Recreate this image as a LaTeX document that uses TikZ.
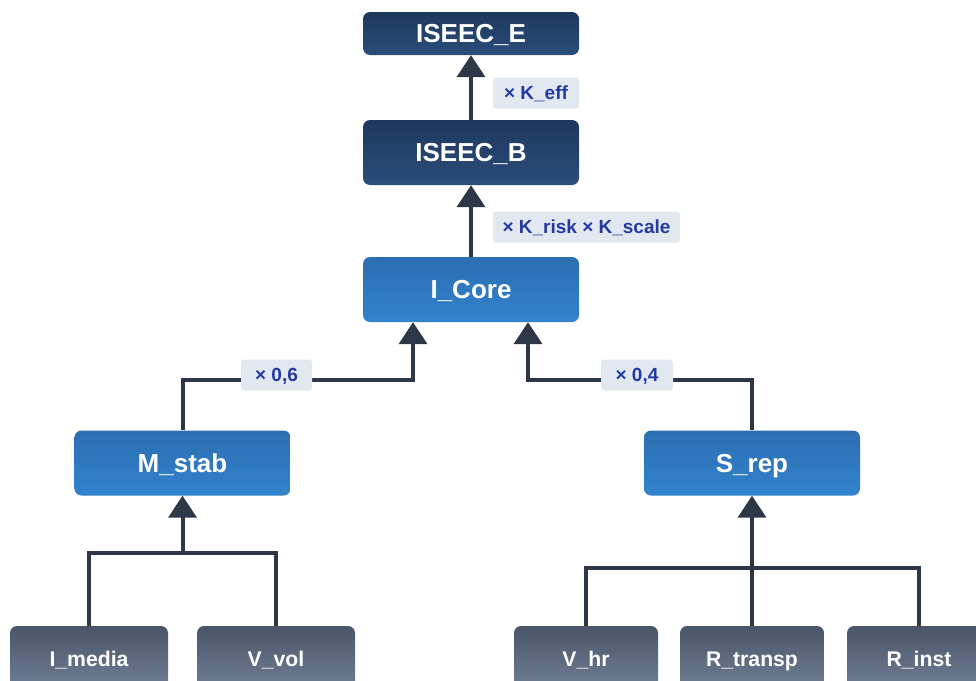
\documentclass[tikz,border=0pt]{standalone}
\usepackage{fontspec}
\setmainfont{Liberation Sans}
\usepackage{tikz}
\usetikzlibrary{arrows.meta,calc}
\definecolor{navytop}{RGB}{29,56,94}
\definecolor{navybot}{RGB}{43,77,122}
\definecolor{bluetop}{RGB}{44,110,176}
\definecolor{bluebot}{RGB}{50,131,206}
\definecolor{greytop}{RGB}{74,85,104}
\definecolor{greybot}{RGB}{113,128,150}
\definecolor{wirecol}{RGB}{45,55,72}
\definecolor{tagfill}{RGB}{226,232,240}
\definecolor{tagtext}{RGB}{35,58,165}
\tikzset{
  box/.style={rounded corners=7pt,inner sep=0pt,text=white,text height=18.6pt,text depth=0pt,font=\bfseries\fontsize{26}{30}\selectfont},
  topbox/.style={box,top color=navytop,bottom color=navybot,minimum width=216pt},
  corebox/.style={box,top color=bluetop,bottom color=bluebot,minimum width=216pt,minimum height=65pt},
  leafbox/.style={box,top color=greytop,bottom color=greybot,minimum height=65pt,text height=15.2pt,font=\bfseries\fontsize{21.2}{25}\selectfont},
  factor/.style={fill=tagfill,rounded corners=3pt,text=tagtext,inner sep=0pt,minimum height=31pt,text height=13.6pt,text depth=0pt,font=\bfseries\fontsize{19}{23}\selectfont},
  wire/.style={draw=wirecol,line width=4pt},
  flow/.style={wire,-{Triangle[width=28pt,length=22pt]}}
}
\begin{document}
\begin{tikzpicture}[x=1pt,y=-1pt]
  \useasboundingbox (0,0) rectangle (976,680);
  % upper chain
  \node[topbox,minimum height=43pt] (isee) at (471,33.5) {ISEEC\_E};
  \node[topbox,minimum height=65pt] (iseb) at (471,152.5) {ISEEC\_B};
  \node[corebox] (icore) at (471,289.5) {I\_Core};
  % middle level
  \node[corebox] (mstab) at (182.5,463) {M\_stab};
  \node[corebox] (srep) at (752,463) {S\_rep};
  % leaves
  \node[leafbox,minimum width=158pt] (imedia) at (89,658.5) {I\_media};
  \node[leafbox,minimum width=158pt] (vvol) at (276,658.5) {V\_vol};
  \node[leafbox,minimum width=144pt] (vhr) at (586,658.5) {V\_hr};
  \node[leafbox,minimum width=144pt] (rtransp) at (752,658.5) {R\_transp};
  \node[leafbox,minimum width=144pt] (rinst) at (919,658.5) {R\_inst};
  % joints
  \coordinate (jl) at (413,380);
  \coordinate (jr) at (528,380);
  \coordinate (mjoin) at (182.5,553);
  \coordinate (sjoin) at (752,568);
  % connectors
  \draw[flow] (iseb) -- (isee);
  \draw[flow] (icore) -- (iseb);
  \draw[flow] (mstab.north) |- (jl) -- (jl |- icore.south);
  \draw[flow] (srep.north) |- (jr) -- (jr |- icore.south);
  \draw[wire] (imedia.north) |- (mjoin) -| (vvol.north);
  \draw[flow] (mjoin) -- (mstab.south);
  \draw[wire] (vhr.north) |- (sjoin) -| (rinst.north);
  \draw[flow] (rtransp.north) -- (srep.south);
  % factors
  \node[factor,minimum width=86pt] (keff) at (536,93) {× K\_eff};
  \node[factor,minimum width=187pt] (krisk) at (586.5,227) {× K\_risk × K\_scale};
  \node[factor,minimum width=71pt] (wsix) at (276.5,375) {× 0,6};
  \node[factor,minimum width=72pt] (wfour) at (637,375) {× 0,4};
\end{tikzpicture}
\end{document}
